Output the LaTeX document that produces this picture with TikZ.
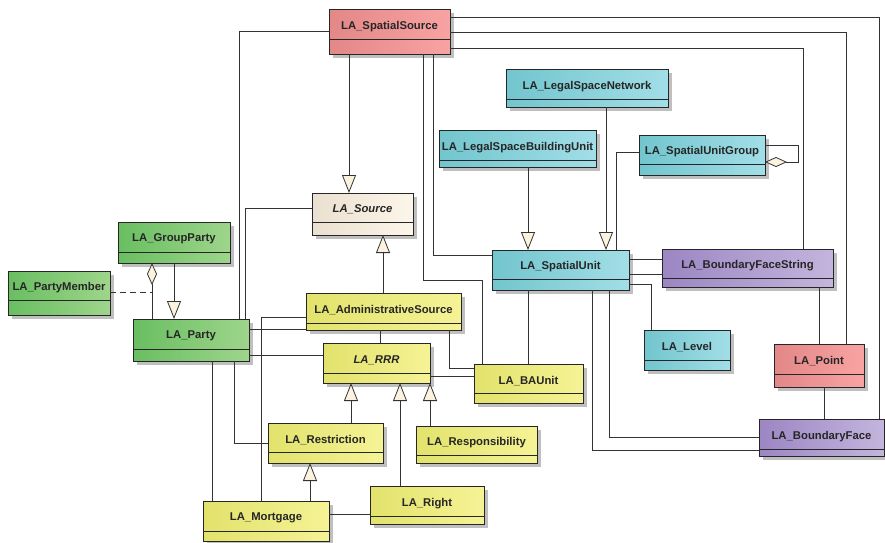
\documentclass[tikz,border=0pt]{standalone}
\usepackage{fontspec}
\setmainfont{Liberation Sans}
\usetikzlibrary{arrows.meta,shadows}
\definecolor{redL}{HTML}{E38787}
\definecolor{redR}{HTML}{F8A3A3}
\definecolor{cyanL}{HTML}{72C5CE}
\definecolor{cyanR}{HTML}{A2DEE7}
\definecolor{greenL}{HTML}{69BE61}
\definecolor{greenR}{HTML}{9ED58B}
\definecolor{yellowL}{HTML}{E2E26C}
\definecolor{yellowR}{HTML}{F5F395}
\definecolor{beigeL}{HTML}{EAE0D0}
\definecolor{beigeR}{HTML}{FCF6EA}
\definecolor{purpleL}{HTML}{9C86C3}
\definecolor{purpleR}{HTML}{C3B5DD}
\definecolor{cream}{HTML}{FBF3DF}
\tikzset{
  umlbox/.style={draw=black!85, line width=0.9pt, inner sep=0pt, outer sep=0pt, shade,
    drop shadow={shadow xshift=3.5pt, shadow yshift=-3.5pt, fill=black!25, opacity=1}},
  divider/.style={draw=black!85, line width=0.9pt},
  umllabel/.style={inner sep=0pt, font=\fontsize{11.3}{13}\selectfont\bfseries, text=black!85},
  conn/.style={draw=black!80, line width=0.8pt},
  gen/.style={conn, -{Triangle[length=18pt,width=14pt,fill=cream]}},
  agg/.style={conn, {Diamond[length=22pt,width=10pt,fill=cream]}-},
  aggend/.style={conn, -{Diamond[length=22pt,width=10pt,fill=cream]}},
}
% name, x1, y1, x2, y2, divider y, colour, text, extra font
\newcommand\umlbox[9]{%
  \node[umlbox, left color=#7L, right color=#7R,
        minimum width={(#4-#2)*1pt}, minimum height={(#5-#3)*1pt}]
        (#1) at ({(#2+#4)/2},{(#3+#5)/2}) {};
  \draw[divider] (#2,#6) -- (#4,#6);
  \node[umllabel] (#1-t) at ({(#2+#4)/2},{(#3+#6)/2+2.2}) {#9#8};
}
\begin{document}
\begin{tikzpicture}[x=1pt,y=-1pt]
\useasboundingbox[fill=white] (0,0) rectangle (885,542);

\umlbox{ss}{329}{9}{450}{54}{39}{red}{LA\_SpatialSource}{}
\umlbox{lsn}{506}{69}{668}{107}{99}{cyan}{LA\_LegalSpaceNetwork}{}
\umlbox{lsbu}{439}{130}{596}{167}{160}{cyan}{LA\_LegalSpaceBuildingUnit}{}
\umlbox{sug}{639}{135}{765}{175}{164}{cyan}{LA\_SpatialUnitGroup}{}
\umlbox{src}{312}{193}{413}{235}{222}{beige}{LA\_Source}{\itshape}
\umlbox{gp}{118}{222}{230}{263}{252}{green}{LA\_GroupParty}{}
\umlbox{pm}{8}{271}{110}{315}{300}{green}{LA\_PartyMember}{}
\umlbox{su}{492}{250}{629}{290}{279}{cyan}{LA\_SpatialUnit}{}
\umlbox{bfs}{662}{249}{833}{287}{278}{purple}{LA\_BoundaryFaceString}{}
\umlbox{as}{306}{293}{461}{330}{323}{yellow}{LA\_AdministrativeSource}{}
\umlbox{party}{133}{319}{249}{361}{349}{green}{LA\_Party}{}
\umlbox{lvl}{644}{330}{730}{370}{360}{cyan}{LA\_Level}{}
\umlbox{rrr}{323}{343}{430}{383}{373}{yellow}{LA\_RRR}{\itshape}
\umlbox{pt}{774}{344}{864}{387}{374}{red}{LA\_Point}{}
\umlbox{ba}{474}{364}{583}{403}{393}{yellow}{LA\_BAUnit}{}
\umlbox{bf}{759}{419}{884}{456}{449}{purple}{LA\_BoundaryFace}{}
\umlbox{rsp}{416}{426}{537}{463}{455}{yellow}{LA\_Responsibility}{}
\umlbox{rst}{268}{423}{383}{463}{452}{yellow}{LA\_Restriction}{}
\umlbox{rt}{370}{486}{484}{524}{516}{yellow}{LA\_Right}{}
\umlbox{mg}{203}{501}{329}{541}{531}{yellow}{LA\_Mortgage}{}

% LA_SpatialSource connections
\draw[gen] (ss.south -| 349,0) -- (src.north -| 349,0);
\draw[conn] (ss.west |- 0,31) -| (party.north -| 239,0);
\draw[conn] (ss.south -| 423,0) -- (423,280) -| (ba.north -| 482,0);
\draw[conn] (ss.south -| 433,0) |- (su.west |- 0,255);
\draw[conn] (ss.east |- 0,17) -| (bf.north -| 879,0);
\draw[conn] (ss.east |- 0,32) -| (pt.north -| 846,0);
\draw[conn] (ss.east |- 0,48) -| (bfs.north -| 803,0);

% spatial unit family
\draw[gen] (lsn.south -| 606,0) -- (su.north -| 606,0);
\draw[gen] (lsbu.south -| 528,0) -- (su.north -| 528,0);
\draw[conn] (sug.west |- 0,152) -| (su.north -| 616,0);
\draw[aggend] (sug.east |- 0,145) -| (798,162) -- (sug.east |- 0,162);
\draw[conn] (su.south -| 528,0) -- (ba.north -| 528,0);
\draw[conn] (su.east |- 0,259) -- (bfs.west |- 0,259);
\draw[conn] (su.east |- 0,274) -- (bfs.west |- 0,274);
\draw[conn] (su.east |- 0,284) -| (lvl.north -| 651,0);
\draw[conn] (su.south -| 592,0) |- (bf.west |- 0,450);
\draw[conn] (su.south -| 609,0) |- (bf.west |- 0,437);
\draw[conn] (bfs.south -| 819,0) -- (pt.north -| 819,0);
\draw[conn] (pt.south -| 824,0) -- (bf.north -| 824,0);

% party family
\draw[agg] (gp.south -| 152,0) -- (party.north -| 152,0);
\draw[gen] (gp.south -| 174,0) -- (party.north -| 174,0);
\coordinate (pmjoin) at (152,292);
\draw[conn, dashed, dash pattern=on 6pt off 4pt] (pm.east |- 0,292) -- (pmjoin);
\draw[conn] (party.north -| 245,0) |- (src.west |- 0,208);
\draw[conn] (party.east |- 0,329) -- (as.west |- 0,329);
\draw[conn] (party.east |- 0,355) -- (rrr.west |- 0,355);
\draw[conn] (party.south -| 212,0) -- (mg.north -| 212,0);
\draw[conn] (party.south -| 234,0) |- (rst.west |- 0,443);

% administrative source and RRR
\draw[gen] (as.north -| 383,0) -- (src.south -| 383,0);
\draw[conn] (as.south -| 380,0) -- (rrr.north -| 380,0);
\draw[conn] (as.south -| 449,0) |- (ba.west |- 0,368);
\draw[conn] (as.west |- 0,317) -| (mg.north -| 261,0);
\draw[conn] (rrr.east |- 0,376) -- (ba.west |- 0,376);
\draw[gen] (rst.north -| 351,0) -- (rrr.south -| 351,0);
\draw[gen] (rt.north -| 400,0) -- (rrr.south -| 400,0);
\draw[gen] (rsp.north -| 430,0) -- (rrr.south -| 430,0);
\draw[gen] (mg.north -| 310,0) -- (rst.south -| 310,0);
\draw[conn] (mg.east |- 0,514) -- (rt.west |- 0,514);
\end{tikzpicture}
\end{document}
